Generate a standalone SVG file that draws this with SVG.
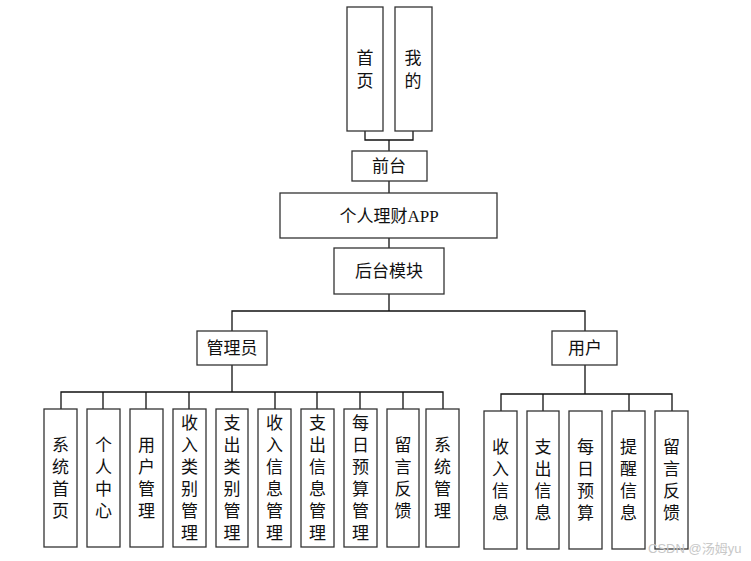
<svg xmlns="http://www.w3.org/2000/svg" width="751" height="561" viewBox="0 0 751 561">
<style>
.b{fill:#fff;stroke:#333;stroke-width:1.3}
.t{font-family:"Liberation Serif","Noto Sans CJK SC",serif;font-size:17px;fill:#111;text-anchor:middle;dominant-baseline:central}
.c{fill:none;stroke:#111;stroke-width:1.3}
.w{font-family:"Liberation Sans","Noto Sans CJK SC",sans-serif;font-size:13px;fill:#c8c8c8}
</style>
<rect width="751" height="561" fill="#fff"/>
<g id="connectors" class="c">
<path d="M365 131V140H413V131M389 140V151"/>
<path d="M389 181V193M389 238V248M389 294V311"/>
<path d="M232 331V311H585V331"/>
<path d="M232 365V392M61 409V392H443V409M103 392V409M146 392V409M189 392V409M275 392V409M317 392V409M360 392V409M403 392V409"/>
<path d="M585 365V394M501 411V394H672V411M543 394V411M629 394V411"/>
</g>
<g id="n-home"><rect class="b" x="347" y="7" width="36" height="124"/><text class="t" x="365" y="58">首</text><text class="t" x="365" y="81">页</text></g>
<g id="n-mine"><rect class="b" x="395" y="7" width="37" height="124"/><text class="t" x="413" y="58">我</text><text class="t" x="413" y="81">的</text></g>
<g id="n-front"><rect class="b" x="352" y="151" width="75" height="30"/><text class="t" x="389" y="166">前台</text></g>
<g id="n-app"><rect class="b" x="280" y="193" width="217" height="45"/><text class="t" x="389" y="216">个人理财APP</text></g>
<g id="n-back"><rect class="b" x="334" y="248" width="110" height="46"/><text class="t" x="389" y="271">后台模块</text></g>
<g id="n-admin"><rect class="b" x="197" y="331" width="70" height="34"/><text class="t" x="232" y="348">管理员</text></g>
<g id="n-user"><rect class="b" x="552" y="331" width="65" height="34"/><text class="t" x="585" y="348">用户</text></g>

<g id="a1"><rect class="b" x="44" y="409" width="33" height="138"/><text class="t" x="60.5" y="445">系</text><text class="t" x="60.5" y="467">统</text><text class="t" x="60.5" y="489">首</text><text class="t" x="60.5" y="511">页</text></g>
<g id="a2"><rect class="b" x="87" y="409" width="33" height="138"/><text class="t" x="103.5" y="445">个</text><text class="t" x="103.5" y="467">人</text><text class="t" x="103.5" y="489">中</text><text class="t" x="103.5" y="511">心</text></g>
<g id="a3"><rect class="b" x="130" y="409" width="33" height="138"/><text class="t" x="146.5" y="445">用</text><text class="t" x="146.5" y="467">户</text><text class="t" x="146.5" y="489">管</text><text class="t" x="146.5" y="511">理</text></g>
<g id="a4"><rect class="b" x="173" y="409" width="33" height="138"/><text class="t" x="189.5" y="423">收</text><text class="t" x="189.5" y="445">入</text><text class="t" x="189.5" y="467">类</text><text class="t" x="189.5" y="489">别</text><text class="t" x="189.5" y="511">管</text><text class="t" x="189.5" y="533">理</text></g>
<g id="a5"><rect class="b" x="216" y="409" width="32" height="138"/><text class="t" x="232" y="423">支</text><text class="t" x="232" y="445">出</text><text class="t" x="232" y="467">类</text><text class="t" x="232" y="489">别</text><text class="t" x="232" y="511">管</text><text class="t" x="232" y="533">理</text></g>
<g id="a6"><rect class="b" x="258" y="409" width="33" height="138"/><text class="t" x="274.5" y="423">收</text><text class="t" x="274.5" y="445">入</text><text class="t" x="274.5" y="467">信</text><text class="t" x="274.5" y="489">息</text><text class="t" x="274.5" y="511">管</text><text class="t" x="274.5" y="533">理</text></g>
<g id="a7"><rect class="b" x="301" y="409" width="33" height="138"/><text class="t" x="317.5" y="423">支</text><text class="t" x="317.5" y="445">出</text><text class="t" x="317.5" y="467">信</text><text class="t" x="317.5" y="489">息</text><text class="t" x="317.5" y="511">管</text><text class="t" x="317.5" y="533">理</text></g>
<g id="a8"><rect class="b" x="344" y="409" width="33" height="138"/><text class="t" x="360.5" y="423">每</text><text class="t" x="360.5" y="445">日</text><text class="t" x="360.5" y="467">预</text><text class="t" x="360.5" y="489">算</text><text class="t" x="360.5" y="511">管</text><text class="t" x="360.5" y="533">理</text></g>
<g id="a9"><rect class="b" x="387" y="409" width="32" height="138"/><text class="t" x="403" y="445">留</text><text class="t" x="403" y="467">言</text><text class="t" x="403" y="489">反</text><text class="t" x="403" y="511">馈</text></g>
<g id="a10"><rect class="b" x="426" y="409" width="33" height="138"/><text class="t" x="442.5" y="445">系</text><text class="t" x="442.5" y="467">统</text><text class="t" x="442.5" y="489">管</text><text class="t" x="442.5" y="511">理</text></g>

<g id="u1"><rect class="b" x="484" y="411" width="33" height="138"/><text class="t" x="500.5" y="447">收</text><text class="t" x="500.5" y="469">入</text><text class="t" x="500.5" y="491">信</text><text class="t" x="500.5" y="513">息</text></g>
<g id="u2"><rect class="b" x="527" y="411" width="32" height="138"/><text class="t" x="543" y="447">支</text><text class="t" x="543" y="469">出</text><text class="t" x="543" y="491">信</text><text class="t" x="543" y="513">息</text></g>
<g id="u3"><rect class="b" x="569" y="411" width="33" height="138"/><text class="t" x="585.5" y="447">每</text><text class="t" x="585.5" y="469">日</text><text class="t" x="585.5" y="491">预</text><text class="t" x="585.5" y="513">算</text></g>
<g id="u4"><rect class="b" x="612" y="411" width="33" height="138"/><text class="t" x="628.5" y="447">提</text><text class="t" x="628.5" y="469">醒</text><text class="t" x="628.5" y="491">信</text><text class="t" x="628.5" y="513">息</text></g>
<g id="u5"><rect class="b" x="655" y="411" width="33" height="138"/><text class="t" x="671.5" y="447">留</text><text class="t" x="671.5" y="469">言</text><text class="t" x="671.5" y="491">反</text><text class="t" x="671.5" y="513">馈</text></g>
<text class="w" x="648" y="553">CSDN @汤姆yu</text>
</svg>
